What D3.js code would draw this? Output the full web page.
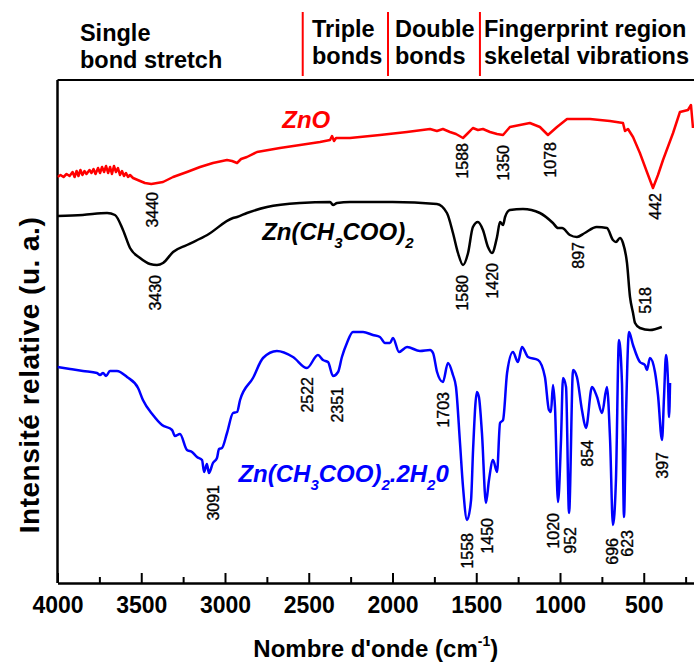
<!DOCTYPE html>
<html>
<head>
<meta charset="utf-8">
<script src="https://cdn.jsdelivr.net/npm/d3@7"></script>
<style>
  body { margin: 0; background: #fff; }
  svg { display: block; font-family: "Liberation Sans", Arial, sans-serif; }
</style>
</head>
<body>
<div id="chart"></div>
<script>
// FTIR spectra, wavenumber (cm-1) vs relative intensity (arbitrary units)

const MAJOR_TICKS = [4000, 3500, 3000, 2500, 2000, 1500, 1000, 500]
const MINOR_TICKS = [3750, 3250, 2750, 2250, 1750, 1250, 750, 250]

const ZNO = [
  [4000, 406], [3982, 408], [3964, 406], [3946, 409], [3928, 407], [3910, 411], [3898, 406],
  [3886, 412], [3875, 407], [3863, 413], [3851, 408], [3839, 412], [3827, 409], [3809, 413],
  [3797, 410], [3785, 414], [3773, 409], [3758, 415], [3746, 410], [3734, 416], [3722, 411],
  [3710, 417], [3698, 410], [3686, 416], [3675, 409], [3663, 417], [3651, 411], [3639, 415],
  [3627, 408], [3615, 412], [3603, 407], [3591, 410], [3579, 406], [3567, 408], [3549, 405],
  [3507, 402], [3478, 400], [3440, 399], [3370, 401], [3310, 406], [3227, 411], [3149, 416],
  [3072, 420], [2988, 423], [2958, 422], [2928, 420], [2904, 424], [2869, 426], [2809, 431],
  [2672, 435], [2552, 438], [2433, 441], [2373, 443], [2361, 447], [2349, 442], [2337, 445],
  [2254, 445], [2075, 448], [1914, 451], [1776, 454], [1735, 452], [1699, 454], [1657, 451],
  [1621, 449], [1579, 445], [1549, 450], [1520, 455], [1490, 453], [1460, 454], [1418, 451],
  [1376, 449], [1340, 448], [1299, 456], [1180, 460], [1120, 456], [1072, 448], [1018, 456],
  [958, 464], [821, 464], [702, 462], [624, 460], [612, 452], [594, 454], [564, 446],
  [523, 430], [481, 411], [445, 395], [415, 408], [385, 423], [325, 450], [284, 471],
  [236, 473], [218, 478], [206, 455]
]

const ZN_ACETATE = [
  [4000, 367], [3850, 368], [3704, 370], [3657, 368], [3609, 353], [3567, 335], [3507, 325],
  [3448, 319], [3406, 318], [3370, 320], [3310, 331], [3227, 338], [3106, 348], [2952, 365],
  [2928, 366], [2869, 370], [2749, 376], [2552, 380], [2373, 381], [2355, 378], [2331, 380],
  [2254, 381], [2000, 381], [1735, 379], [1675, 370], [1639, 350], [1609, 330], [1579, 318],
  [1549, 330], [1520, 356], [1490, 361], [1460, 353], [1430, 336], [1406, 330], [1376, 346],
  [1358, 361], [1340, 358], [1328, 366], [1299, 373], [1221, 374], [1120, 370], [1042, 360],
  [1012, 355], [988, 355], [941, 348], [899, 346], [852, 350], [781, 356], [720, 355],
  [684, 343], [666, 341], [642, 345], [624, 340], [600, 320], [582, 286], [564, 270],
  [552, 260], [523, 255], [463, 253], [392, 256]
]

const ZN_ACETATE_DIHYDRATE = [
  [4000, 216], [3925, 214], [3848, 212], [3764, 210], [3746, 208], [3728, 210], [3710, 207],
  [3687, 212], [3645, 212], [3585, 206], [3519, 195], [3490, 183], [3430, 168], [3376, 158],
  [3316, 153], [3299, 147], [3269, 149], [3227, 133], [3197, 131], [3167, 126], [3137, 123],
  [3125, 111], [3108, 119], [3096, 110], [3072, 120], [3048, 125], [3036, 134], [3018, 135],
  [2988, 150], [2952, 170], [2928, 171], [2910, 183], [2833, 205], [2773, 225], [2690, 232],
  [2594, 226], [2511, 215], [2445, 228], [2415, 223], [2385, 221], [2355, 207], [2325, 211],
  [2302, 226], [2272, 240], [2236, 251], [2176, 251], [2117, 248], [2075, 246], [2045, 240],
  [2015, 240], [1997, 245], [1961, 231], [1913, 236], [1836, 232], [1776, 233], [1758, 230],
  [1734, 211], [1699, 201], [1669, 220], [1639, 208], [1621, 196], [1597, 140], [1579, 96],
  [1555, 63], [1531, 83], [1519, 133], [1496, 191], [1484, 186], [1466, 150], [1442, 80],
  [1424, 103], [1400, 123], [1376, 111], [1358, 160], [1340, 163], [1316, 210], [1281, 231],
  [1251, 221], [1227, 236], [1191, 226], [1131, 223], [1090, 206], [1066, 173], [1054, 171],
  [1042, 198], [1030, 176], [1012, 81], [994, 143], [982, 205], [964, 196], [946, 70],
  [922, 213], [899, 206], [869, 173], [845, 155], [809, 196], [779, 186], [749, 170],
  [720, 196], [701, 143], [684, 58], [666, 103], [648, 243], [630, 200], [618, 66],
  [606, 166], [588, 251], [564, 238], [523, 221], [493, 218], [481, 213], [463, 225],
  [433, 211], [415, 188], [391, 143], [379, 186], [367, 228], [355, 200], [349, 166],
  [343, 200]
]

// peak labels: [text, wavenumber, intensity at top of label]
const ZNO_PEAKS = [["3440", 3436, 391], ["1588", 1585, 440], ["1350", 1340, 438], ["1078", 1060, 441], ["442", 433, 390]]
const ACETATE_PEAKS = [["3430", 3418, 308], ["1580", 1585, 308], ["1420", 1406, 320], ["897", 893, 341], ["518", 493, 296]]
const DIHYDRATE_PEAKS = [
  ["3091", 3072, 98], ["2522", 2511, 206], ["2351", 2331, 196], ["1703", 1699, 191],
  ["1558", 1550, 50], ["1450", 1436, 65], ["1020", 1042, 70], ["952", 940, 56],
  ["854", 839, 143], ["696", 690, 45], ["623", 600, 53], ["397", 391, 131]
]

// region dividers and headers
const DIVIDERS = [2536, 2027, 1478]
const REGIONS = [
  { lines: ["Single", "bond stretch"], wn: 3866, top: true },
  { lines: ["Triple", "bonds"], wn: 2481 },
  { lines: ["Double", "bonds"], wn: 1985 },
  { lines: ["Fingerprint region", "skeletal vibrations"], wn: 1454 }
]

const SERIES = [
  { data: ZNO, peaks: ZNO_PEAKS, color: "#ff0000", curve: d3.curveLinear, name: [["ZnO"]], at: [2658, 455] },
  { data: ZN_ACETATE, peaks: ACETATE_PEAKS, color: "#000000", curve: d3.curveMonotoneX,
    name: [["Zn(CH"], ["3", 1], ["COO)"], ["2", 1]], at: [2778, 343] },
  { data: ZN_ACETATE_DIHYDRATE, peaks: DIHYDRATE_PEAKS, color: "#0000ff", curve: d3.curveMonotoneX,
    name: [["Zn(CH"], ["3", 1], ["COO)"], ["2", 1], [".2H"], ["2", 1], ["0"]], at: [2920, 101] }
]

const width = 694
const height = 664
const plotLeft = 57.5, plotRight = 694, plotTop = 80, plotBottom = 583

const x = d3.scaleLinear().domain([4000, 200]).range([plotLeft, plotRight])
const y = d3.scaleLinear().domain([0, 503]).range([plotBottom, plotTop])

const svg = d3.select("#chart")
  .append("svg")
  .attr("width", width)
  .attr("height", height)
  .attr("viewBox", [0, 0, width, height])

svg.append("defs").append("clipPath")
  .attr("id", "plot-clip")
  .append("rect")
  .attr("x", plotLeft).attr("y", plotTop - 30)
  .attr("width", plotRight - plotLeft).attr("height", plotBottom - plotTop + 30)

// frame
svg.append("line")
  .attr("x1", plotLeft).attr("x2", plotLeft).attr("y1", plotTop).attr("y2", plotBottom)
  .attr("stroke", "#000").attr("stroke-width", 2.5)
svg.append("line")
  .attr("x1", plotLeft).attr("x2", plotRight).attr("y1", plotTop).attr("y2", plotTop)
  .attr("stroke", "#000").attr("stroke-width", 2)

// x axis, ticks pointing inward
const xAxis = svg.append("g")
  .attr("transform", `translate(0,${plotBottom})`)
  .call(d3.axisBottom(x).tickValues(MAJOR_TICKS).tickSize(-10).tickSizeOuter(0).tickPadding(14).tickFormat(d3.format("d")))
xAxis.select(".domain").attr("stroke-width", 2.5)
xAxis.selectAll(".tick line").attr("stroke-width", 2)
xAxis.selectAll(".tick text")
  .attr("font-size", 23).attr("font-weight", "bold").attr("font-family", "Liberation Sans, Arial, sans-serif")

svg.append("g")
  .attr("transform", `translate(0,${plotBottom})`)
  .call(d3.axisBottom(x).tickValues(MINOR_TICKS).tickSize(-6).tickFormat(""))
  .call(g => g.select(".domain").remove())
  .selectAll(".tick line").attr("stroke-width", 2)

// axis titles
const xTitle = svg.append("text")
  .attr("x", (plotLeft + plotRight) / 2)
  .attr("y", 657)
  .attr("text-anchor", "middle")
  .attr("font-size", 24)
  .attr("font-weight", "bold")
xTitle.append("tspan").text("Nombre d'onde  (cm")
xTitle.append("tspan").attr("font-size", 14).attr("dy", -11).text("-1")
xTitle.append("tspan").attr("dy", 11).text(")")

svg.append("text")
  .attr("transform", `translate(39,375) rotate(-90)`)
  .attr("text-anchor", "middle")
  .attr("font-size", 28)
  .attr("letter-spacing", 0.5)
  .attr("font-weight", "bold")
  .text("Intensité relative (u. a.)")

// region headers
svg.append("g")
  .selectAll("line")
  .data(DIVIDERS)
  .enter()
  .append("line")
  .attr("x1", d => x(d)).attr("x2", d => x(d))
  .attr("y1", 12).attr("y2", 76)
  .attr("stroke", "#ff0000").attr("stroke-width", 2)

const header = svg.append("g")
  .selectAll("text")
  .data(REGIONS)
  .enter()
  .append("text")
  .attr("x", d => x(d.wn))
  .attr("y", d => d.top ? 41 : 37)
  .attr("font-size", 23.5)
  .attr("font-weight", "bold")
header.selectAll("tspan")
  .data(d => d.lines.map((t, i) => ({ t, i, wn: d.wn })))
  .enter()
  .append("tspan")
  .attr("x", d => x(d.wn))
  .attr("dy", d => d.i === 0 ? 0 : 27)
  .text(d => d.t)

// spectra
const plot = svg.append("g").attr("clip-path", "url(#plot-clip)")

plot.selectAll(".spectrum")
  .data(SERIES)
  .enter()
  .append("path")
  .attr("class", "spectrum")
  .attr("d", d => d3.line().x(p => x(p[0])).y(p => y(p[1])).curve(d.curve)(d.data))
  .attr("fill", "none")
  .attr("stroke", d => d.color)
  .attr("stroke-width", 2.5)
  .attr("stroke-linejoin", "round")

// peak labels
SERIES.forEach(s => {
  svg.append("g")
    .selectAll("text")
    .data(s.peaks)
    .enter()
    .append("text")
    .attr("transform", d => `translate(${x(d[1])},${y(d[2])}) rotate(-90)`)
    .attr("text-anchor", "end")
    .attr("dy", "0.35em")
    .attr("font-size", 16)
    .attr("stroke", "#000")
    .attr("stroke-width", 0.35)
    .text(d => d[0])
})

// series names
SERIES.forEach(s => {
  const label = svg.append("text")
    .attr("x", x(s.at[0]))
    .attr("y", y(s.at[1]))
    .attr("fill", s.color)
    .attr("font-size", 24)
    .attr("font-weight", "bold")
    .attr("font-style", "italic")
  let shifted = false
  s.name.forEach(([t, sub]) => {
    const ts = label.append("tspan").text(t)
    if (sub && !shifted) { ts.attr("dy", 8).attr("font-size", 15); shifted = true }
    else if (!sub && shifted) { ts.attr("dy", -8); shifted = false }
  })
})
</script>
</body>
</html>
